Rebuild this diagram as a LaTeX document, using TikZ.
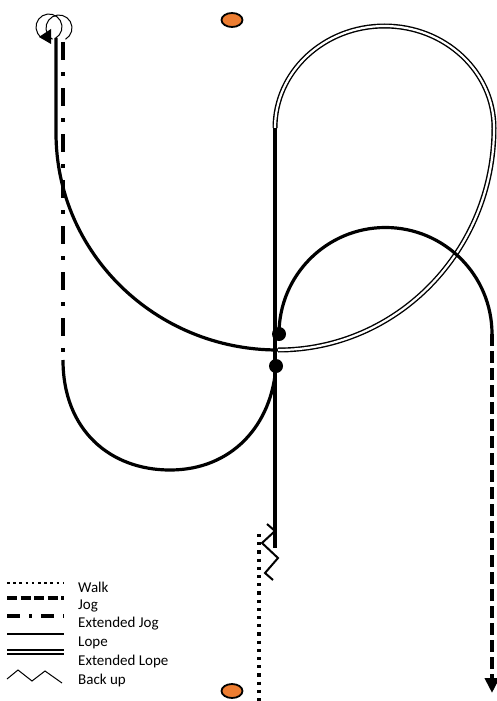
\documentclass[tikz,border=0pt]{standalone}
\usepackage{fontspec}
\setmainfont{Carlito}
\usetikzlibrary{arrows.meta,shapes.geometric}
\definecolor{coneorange}{HTML}{ED7D31}
\begin{document}
\begin{tikzpicture}[x=1pt,y=-1pt,
  lope/.style={line width=3.2pt},
  extlope/.style={double, line width=1.4pt, double distance=2.2pt},
  walk/.style={line width=3.2pt, dash pattern=on 3.2pt off 5pt},
  jog/.style={line width=3.8pt, dash pattern=on 12pt off 5pt},
  extjog/.style={line width=3.8pt, dash pattern=on 18pt off 12pt on 4pt off 12pt},
  backup/.style={line width=2pt, line join=miter},
  loopline/.style={line width=1pt},
  cone/.style={ellipse, draw, line width=1.8pt, fill=coneorange, minimum width=21pt, minimum height=14pt, inner sep=0pt},
  dotnode/.style={circle, fill=black, minimum size=14pt, inner sep=0pt},
  legtext/.style={anchor=west, font=\fontsize{15}{17}\selectfont, inner sep=0pt}]
\useasboundingbox (0,0) rectangle (497,701);
% cones
\node[cone] (coneTop) at (232,20) {};
\node[cone] (coneBot) at (232,691) {};
% key points
\coordinate (topL) at (56,38);
\coordinate (arcA) at (56,133);
\coordinate (bigBottom) at (278,350);
\coordinate (dblLeft) at (275,128);
\coordinate (stemEnd) at (275,548);
\coordinate (jogTop) at (63,42);
\coordinate (jogEnd) at (63,360);
\coordinate (rightTop) at (492,334);
\coordinate (rightEnd) at (492,693);
\coordinate (walkTop) at (259,534);
\coordinate (walkEnd) at (259,701);
% top-left loops and arrow
\draw[loopline] (49,27) ++(60:13) arc[start angle=60, end angle=-240, radius=13];
\draw[loopline] (59,28) ++(60:13) arc[start angle=60, end angle=-240, radius=13];
\fill (39,37) -- (51,29) -- (51,44) -- cycle;
% extended jog down the left
\draw[extjog] (jogTop) -- (jogEnd);
% lope down then big arc
\draw[lope] (topL) -- (arcA) arc[start angle=180, end angle=90, x radius=222, y radius=217];
% extended lope loop
\draw[extlope] (bigBottom) arc[start angle=90, end angle=0, x radius=216, y radius=222]
  arc[start angle=0, end angle=-180, x radius=109.5, y radius=102];
% central stem
\draw[lope] (dblLeft) -- (stemEnd);
% lower-left lope arc
\node[dotnode] (dotB) at (276,366) {};
\draw[lope] (jogEnd) .. controls (63,430) and (110,470) .. (170,470)
  .. controls (232,470) and (272,425) .. (dotB.center);
% right lope arc
\node[dotnode] (dotA) at (279,334) {};
\draw[lope] (dotA.center) arc[start angle=180, end angle=360, radius=106.5];
\draw[jog, -{Triangle[width=14pt,length=15pt]}] (rightTop) -- (rightEnd);
% walk and back up
\draw[walk] (walkTop) -- (walkEnd);
\draw[backup] (267,524) -- (275,531) -- (262,543) -- (278,558) -- (265,573) -- (273,580);
% legend
\draw[walk, line width=2.6pt, dash pattern=on 2.6pt off 3.6pt] (7,583) -- (64,583);
\node[legtext] (lWalk) at (78,587) {Walk};
\draw[jog, line width=3.2pt, dash pattern=on 10pt off 3.5pt] (7,598) -- (64,598);
\node[legtext] (lJog) at (78,606) {Jog};
\draw[extjog, line width=3.2pt, dash pattern=on 13pt off 9pt on 3pt off 9pt] (7,616) -- (64,616);
\node[legtext] (lExtJog) at (78,624) {Extended Jog};
\draw[lope, line width=2.8pt] (7,634) -- (64,634);
\node[legtext] (lLope) at (78,643) {Lope};
\draw[extlope, line width=1.6pt, double distance=2pt] (7,652) -- (64,652);
\node[legtext] (lExtLope) at (78,661) {Extended Lope};
\draw[loopline] (7,679) -- (18,670) -- (32,681) -- (45,671) -- (62,683);
\node[legtext] (lBack) at (78,680) {Back up};
\end{tikzpicture}
\end{document}
